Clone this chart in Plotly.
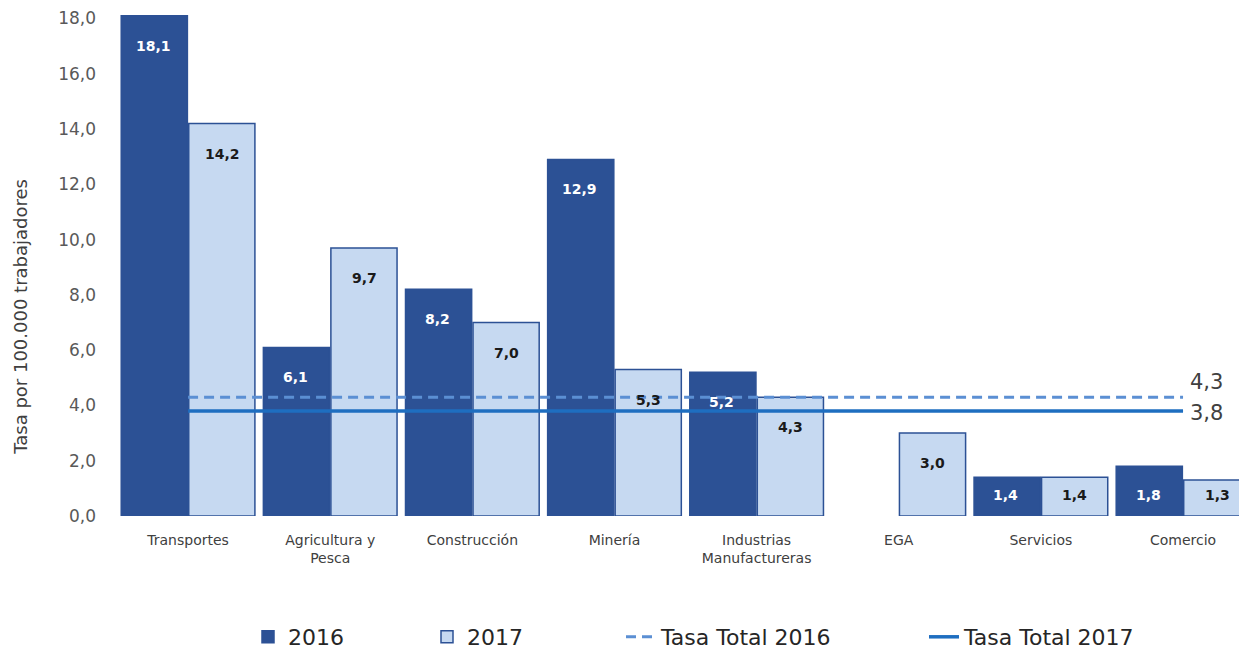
import plotly.graph_objects as go

categories = ["Transportes", "Agricultura y<br>Pesca", "Construcción", "Minería",
              "Industrias<br>Manufactureras", "EGA", "Servicios", "Comercio"]
values_2016 = [18.1, 6.1, 8.2, 12.9, 5.2, None, 1.4, 1.8]
values_2017 = [14.2, 9.7, 7.0, 5.3, 4.3, 3.0, 1.4, 1.3]
tasa_total_2016 = 4.3
tasa_total_2017 = 3.8
y_ticks = [0, 2, 4, 6, 8, 10, 12, 14, 16, 18]

DARK = "#2C5195"
LIGHT = "#C6D9F1"
DASH_C = "#5B8FD3"
SOLID_C = "#1E6EC0"
FONT = "DejaVu Sans, Arial, sans-serif"

W, H = 1239, 650
ML, MR, MT, MB = 109, 0, 5, 140
Y_RANGE = [0, 18.2]
PLOT_W = W - ML - MR
PLOT_H = H - MT - MB
px_per_unit = PLOT_H / (Y_RANGE[1] - Y_RANGE[0])

def fmt(v):
    return f"{v:.1f}".replace(".", ",")

def page_x(px):
    # page x (8px body offset) -> paper fraction of plot area
    return (px - 8 - ML) / PLOT_W

def page_y(py):
    return (H - MB - (py - 8)) / PLOT_H

fig = go.Figure()
fig.add_trace(go.Bar(name="2016", x=categories, y=values_2016, legend="legend",
                     marker=dict(color=DARK, line=dict(color=DARK, width=1.5))))
fig.add_trace(go.Bar(name="2017", x=categories, y=values_2017, legend="legend",
                     marker=dict(color=LIGHT, line=dict(color=DARK, width=1.5))))
fig.add_trace(go.Scatter(name="Tasa Total 2016", x=[categories[0], categories[-1]],
                         y=[tasa_total_2016, tasa_total_2016], mode="lines", legend="legend2",
                         line=dict(color=DASH_C, width=3, dash="10px,6px")))
fig.add_trace(go.Scatter(name="Tasa Total 2017", x=[categories[0], categories[-1]],
                         y=[tasa_total_2017, tasa_total_2017], mode="lines", legend="legend2",
                         line=dict(color=SOLID_C, width=3.5)))

annotations = []
for cat, v16, v17 in zip(categories, values_2016, values_2017):
    for v, shift, col in ((v16, -35, "white"), (v17, 34, "#1A1A1A")):
        if v is None:
            continue
        hpx = v * px_per_unit
        ys = -min(30, hpx - 21)
        annotations.append(dict(x=cat, y=v, xref="x", yref="y", xshift=shift, yshift=ys,
                                text=f"<b>{fmt(v)}</b>", showarrow=False,
                                font=dict(family=FONT, size=14, color=col)))
for val, ys in ((tasa_total_2016, 15), (tasa_total_2017, -2)):
    annotations.append(dict(x=categories[-1], y=val, xref="x", yref="y", xshift=5, yshift=ys,
                            xanchor="left", text=fmt(val), showarrow=False,
                            font=dict(family=FONT, size=21, color="#404040")))
annotations.append(dict(x=page_x(21), y=page_y(318), xref="paper", yref="paper", textangle=-90,
                        xanchor="center", yanchor="middle",
                        text="Tasa por 100.000 trabajadores", showarrow=False,
                        font=dict(family=FONT, size=18, color="#404040")))

legend_common = dict(orientation="h", yanchor="middle", y=page_y(640), xanchor="left",
                     font=dict(family=FONT, size=22, color="#262626"),
                     entrywidthmode="pixels")

fig.update_layout(
    width=W, height=H,
    margin=dict(l=ML, r=MR, t=MT, b=MB),
    paper_bgcolor="white", plot_bgcolor="white",
    barmode="group", bargap=0.05, bargroupgap=0.02,
    separators=",.",
    font=dict(family=FONT, color="#404040"),
    annotations=annotations,
    showlegend=True,
    legend=dict(legend_common, x=page_x(248), entrywidth=134),
    legend2=dict(legend_common, x=page_x(621), entrywidth=258),
    xaxis=dict(range=[-0.5, 7.45], showgrid=False, showline=False, ticks="",
               ticklabelstandoff=14,
               tickfont=dict(family=FONT, size=14, color="#404040")),
    yaxis=dict(range=Y_RANGE, tickvals=y_ticks, tickformat=".1f", showgrid=False,
               showline=False, zeroline=False, ticks="", ticklabelstandoff=20,
               ticklabeloverflow="allow",
               tickfont=dict(family=FONT, size=17, color="#595959")),
)

fig.write_html("out.html")
